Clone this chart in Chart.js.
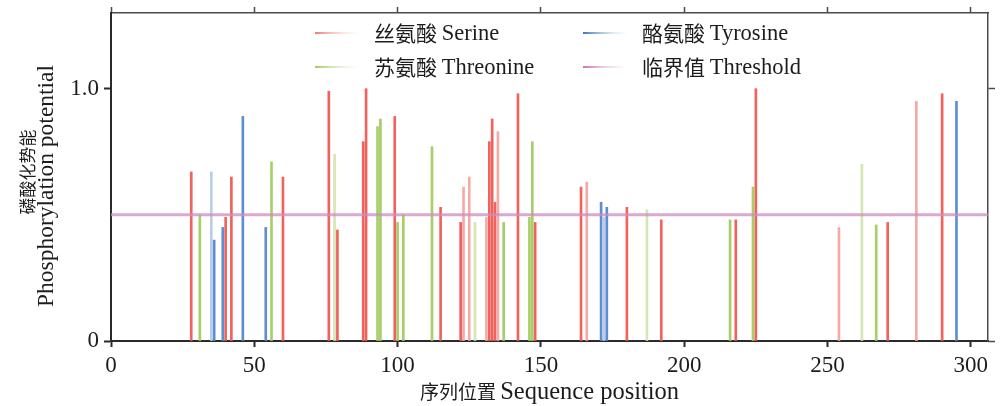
<!DOCTYPE html>
<html>
<head>
<meta charset="utf-8">
<script src="https://cdn.jsdelivr.net/npm/chart.js@4.4.0/dist/chart.umd.min.js"></script>
<style>
  html, body { margin: 0; padding: 0; background: #fff; }
</style>
</head>
<body>
<canvas id="chart" width="1001" height="406"></canvas>
<script>
// values: sequence position -> phosphorylation potential
const serinePos = [28, 40, 42, 60, 76, 79, 88, 89, 99, 115, 122, 123, 125, 131, 132, 133, 134, 135, 142, 148, 164, 166, 180, 192, 218, 225, 254, 271, 281, 290];
const serineVal = [0.67, 0.49, 0.65, 0.65, 0.99, 0.44, 0.79, 1.0, 0.89, 0.53, 0.47, 0.61, 0.65, 0.49, 0.79, 0.88, 0.55, 0.83, 0.98, 0.47, 0.61, 0.63, 0.53, 0.48, 0.48, 1.0, 0.45, 0.47, 0.95, 0.98];

const threoninePos = [31, 56, 78, 93, 94, 100, 102, 112, 127, 137, 146, 147, 187, 216, 224, 262, 267];
const threonineVal = [0.50, 0.71, 0.74, 0.85, 0.88, 0.47, 0.50, 0.77, 0.47, 0.47, 0.49, 0.79, 0.52, 0.48, 0.61, 0.70, 0.46];

const tyrosinePos = [35, 36, 39, 46, 54, 171, 172, 173, 295];
const tyrosineVal = [0.67, 0.40, 0.45, 0.89, 0.45, 0.55, 0.49, 0.53, 0.95];

const threshold = 0.5;
const seqLength = 306;
const xTicks = [0, 50, 100, 150, 200, 250, 300];
const yTicks = [0, 1.0];

// bars that are drawn in a paler tone in the original
const paleSerine = [123, 125, 131, 135, 166, 254, 281];
const paleThreonine = [78, 127, 187, 262];
const paleTyrosine = [35, 172];

const LATIN = '"Liberation Serif", "Times New Roman", serif';
const CJK = '"Noto Sans CJK SC", sans-serif';
const INK = '#1c1c1c';

function points(pos, val) {
    return pos.map((p, i) => ({ x: p, y: val[i] }));
}

function barColor(strong, pale, paleList) {
    return ctx => (ctx.raw && paleList.includes(ctx.raw.x)) ? pale : strong;
}

function fixTicks(list) {
    return scale => { scale.ticks = list.map(v => ({ value: v })); };
}

function fitBox(w, h) {
    return s => {
        if (w !== null) s.width = w;
        if (h !== null) s.height = h;
        s.paddingTop = 0; s.paddingBottom = 0;
        s.paddingLeft = 0; s.paddingRight = 0;
    };
}

// draws text made of runs with different fonts, centred on (cx, cy)
function drawRuns(ctx, runs, cx, cy, angle) {
    ctx.save();
    ctx.translate(cx, cy);
    ctx.rotate(angle);
    ctx.textBaseline = 'middle';
    ctx.textAlign = 'left';
    ctx.fillStyle = INK;
    let total = 0;
    runs.forEach(r => { ctx.font = r.font; r.w = ctx.measureText(r.text).width; total += r.w; });
    let x = -total / 2;
    runs.forEach(r => { ctx.font = r.font; ctx.fillText(r.text, x, r.dy || 0); x += r.w; });
    ctx.restore();
}

const legendItems = [
    { zh: '丝氨酸', en: 'Serine', color: '#f07a74', x: 315, y: 33 },
    { zh: '酪氨酸', en: 'Tyrosine', color: '#3f74c2', x: 583, y: 33 },
    { zh: '苏氨酸', en: 'Threonine', color: '#9fcb5e', x: 315, y: 67 },
    { zh: '临界值', en: 'Threshold', color: '#cc6fb8', x: 583, y: 67 }
];

const legendPlugin = {
    id: 'gridLegend',
    afterDraw(chart) {
        const ctx = chart.ctx;
        legendItems.forEach(item => {
            const g = ctx.createLinearGradient(item.x, 0, item.x + 45, 0);
            g.addColorStop(0, item.color);
            g.addColorStop(1, 'rgba(255,255,255,0.3)');
            ctx.save();
            ctx.strokeStyle = g;
            ctx.lineWidth = 2;
            ctx.beginPath();
            ctx.moveTo(item.x, item.y);
            ctx.lineTo(item.x + 45, item.y);
            ctx.stroke();
            ctx.restore();
            ctx.save();
            ctx.fillStyle = INK;
            ctx.textBaseline = 'middle';
            ctx.font = '21px ' + CJK;
            ctx.fillText(item.zh, item.x + 59, item.y);
            const w = ctx.measureText(item.zh + ' ').width;
            ctx.font = '22.5px ' + LATIN;
            ctx.fillText(item.en, item.x + 59 + w, item.y + 1);
            ctx.restore();
        });
    }
};

const titlePlugin = {
    id: 'axisTitles',
    afterDraw(chart) {
        const ctx = chart.ctx;
        const area = chart.chartArea;
        drawRuns(ctx, [
            { text: '序列位置 ', font: '19px ' + CJK },
            { text: 'Sequence position', font: '24.5px ' + LATIN, dy: 1 }
        ], (area.left + area.right) / 2, 392, 0);
        drawRuns(ctx, [{ text: '磷酸化势能', font: '17px ' + CJK }], 28, 172, -Math.PI / 2);
        drawRuns(ctx, [{ text: 'Phosphorylation potential', font: '23.5px ' + LATIN }], 47, 186, -Math.PI / 2);
    }
};

const axisLine = { color: '#2a2a2a', width: 2 };
const frameLine = { color: '#4a4a4a', width: 1.5 };
const tickFont = { family: LATIN, size: 23 };

const barBase = {
    type: 'bar',
    barThickness: 2,
    grouped: false,
    borderWidth: 0,
    order: 1
};

new Chart(document.getElementById('chart'), {
    type: 'bar',
    data: {
        datasets: [
            {
                ...barBase,
                label: '丝氨酸 Serine',
                data: points(serinePos, serineVal),
                backgroundColor: barColor('#f0625a', '#f6aaa6', paleSerine)
            },
            {
                ...barBase,
                label: '苏氨酸 Threonine',
                data: points(threoninePos, threonineVal),
                backgroundColor: barColor('#a6cf68', '#d3e6b3', paleThreonine)
            },
            {
                ...barBase,
                label: '酪氨酸 Tyrosine',
                data: points(tyrosinePos, tyrosineVal),
                backgroundColor: barColor('#5d8dd2', '#b9cdea', paleTyrosine)
            },
            {
                type: 'line',
                label: '临界值 Threshold',
                data: [{ x: 0, y: threshold }, { x: seqLength, y: threshold }],
                borderColor: 'rgba(205,140,195,0.75)',
                borderWidth: 3,
                pointRadius: 0,
                order: 0
            }
        ]
    },
    options: {
        responsive: false,
        animation: false,
        layout: { padding: 0 },
        plugins: { legend: { display: false }, tooltip: { enabled: false } },
        scales: {
            x: {
                type: 'linear',
                position: 'bottom',
                min: 0,
                max: seqLength,
                offset: false,
                afterBuildTicks: fixTicks(xTicks),
                afterFit: fitBox(null, 65),
                grid: { offset: false, drawOnChartArea: false, tickLength: 6, tickWidth: 2, tickColor: axisLine.color },
                border: axisLine,
                ticks: { font: tickFont, color: INK, padding: 5, maxRotation: 0 }
            },
            x2: {
                type: 'linear',
                position: 'top',
                min: 0,
                max: seqLength,
                offset: false,
                afterBuildTicks: fixTicks(xTicks),
                afterFit: fitBox(null, 13),
                grid: { offset: false, drawOnChartArea: false, tickLength: 6, tickWidth: 1.5, tickColor: frameLine.color },
                border: frameLine,
                ticks: { display: false }
            },
            y: {
                min: 0,
                max: 1.3,
                afterBuildTicks: fixTicks(yTicks),
                afterFit: fitBox(111, null),
                grid: { drawOnChartArea: false, tickLength: 7, tickWidth: 2, tickColor: axisLine.color },
                border: axisLine,
                ticks: {
                    font: tickFont,
                    color: INK,
                    padding: 5,
                    callback: v => v === 0 ? '0' : v.toFixed(1)
                }
            },
            y2: {
                position: 'right',
                min: 0,
                max: 1.3,
                afterBuildTicks: fixTicks(yTicks),
                afterFit: fitBox(13, null),
                grid: { drawOnChartArea: false, tickLength: 7, tickWidth: 1.5, tickColor: frameLine.color },
                border: frameLine,
                ticks: { display: false }
            }
        }
    },
    plugins: [legendPlugin, titlePlugin]
});
</script>
</body>
</html>
